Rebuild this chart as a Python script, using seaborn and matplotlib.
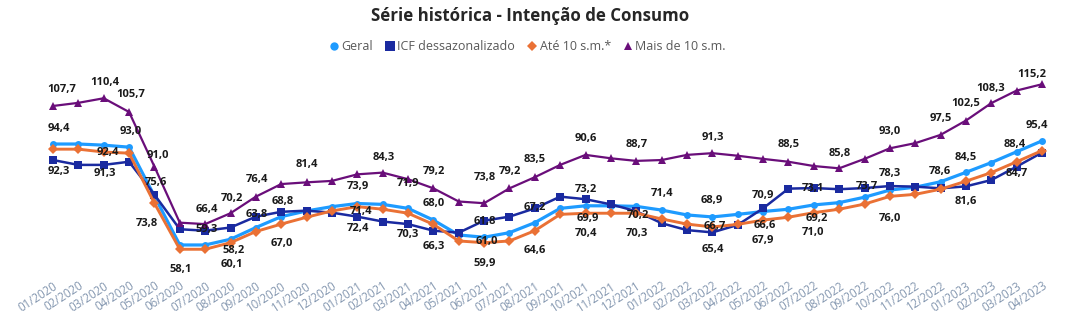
import matplotlib
matplotlib.use("Agg")
import matplotlib.pyplot as plt
import seaborn as sns
import pandas as pd
from matplotlib.lines import Line2D

# ---------------- data ----------------
months = [f"{m:02d}/{y}" for y in (2020, 2021, 2022) for m in range(1, 13)] + \
         ["01/2023", "02/2023", "03/2023", "04/2023"]

geral = [94.4, 94.4, 94.0, 93.3, 76.2, 59.1, 59.1, 61.1, 65.2, 69.0,
         71.0, 72.5, 73.6, 73.3, 71.9, 67.8, 62.6, 61.8, 63.4, 66.9,
         71.9, 72.8, 72.8, 72.6, 71.3, 69.6, 68.9, 69.8, 70.8, 71.6,
         73.1, 73.9, 75.8, 78.3, 79.3, 81.2, 84.5, 87.9, 91.7, 95.5]

icf_dessaz = [88.8, 87.1, 87.1, 88.2, 76.7, 64.6, 64.1, 65.2, 69.0, 70.7,
              71.1, 70.4, 69.0, 67.3, 66.4, 64.1, 63.4, 67.6, 69.0, 71.9,
              76.0, 75.1, 73.3, 70.9, 66.7, 64.3, 63.5, 66.1, 71.9, 78.8,
              79.0, 78.6, 79.0, 79.7, 79.5, 78.9, 79.6, 81.8, 86.5, 91.4]

ate_10sm = [92.6, 92.6, 91.6, 91.2, 73.7, 57.6, 57.6, 59.9, 63.8, 66.4,
            68.8, 71.0, 72.5, 71.6, 70.2, 66.3, 60.5, 59.9, 60.5, 64.1,
            69.8, 70.2, 70.2, 70.2, 68.2, 66.4, 65.4, 66.3, 67.8, 68.8,
            70.4, 71.6, 73.4, 76.1, 76.8, 78.6, 81.4, 84.4, 88.2, 92.1]

mais_10sm = [107.7, 108.8, 110.4, 105.6, 86.5, 66.9, 66.4, 70.2, 76.0, 80.4,
             81.0, 81.5, 83.8, 84.4, 82.1, 78.9, 74.3, 73.7, 78.9, 82.8,
             87.1, 90.6, 89.4, 88.5, 88.8, 90.6, 91.2, 90.3, 89.2, 88.2,
             86.7, 85.9, 89.2, 92.9, 94.7, 97.6, 102.6, 108.7, 113.1, 115.3]

series_names = ["Geral", "ICF dessazonalizado", "Até 10 s.m.*", "Mais de 10 s.m."]
series_values = [geral, icf_dessaz, ate_10sm, mais_10sm]

# data labels shown in the chart: (series, month index, text)
label_items = [
    ("Mais de 10 s.m.", 0, "107,7"), ("Mais de 10 s.m.", 2, "110,4"), ("Mais de 10 s.m.", 3, "105,7"),
    ("Geral", 0, "94,4"), ("Geral", 3, "93,0"), ("Até 10 s.m.*", 2, "92,4"),
    ("ICF dessazonalizado", 0, "92,3"), ("ICF dessazonalizado", 2, "91,3"),
    ("Mais de 10 s.m.", 4, "91,0"), ("ICF dessazonalizado", 4, "75,6"), ("Até 10 s.m.*", 4, "73,8"),
    ("Até 10 s.m.*", 5, "58,1"), ("Mais de 10 s.m.", 6, "66,4"), ("ICF dessazonalizado", 6, "59,3"),
    ("Mais de 10 s.m.", 7, "70,2"), ("Até 10 s.m.*", 7, "58,2"), ("Até 10 s.m.*", 7, "60,1"),
    ("Mais de 10 s.m.", 8, "76,4"), ("ICF dessazonalizado", 8, "63,8"), ("ICF dessazonalizado", 9, "68,8"),
    ("Até 10 s.m.*", 9, "67,0"), ("Mais de 10 s.m.", 10, "81,4"),
    ("Geral", 12, "73,9"), ("Até 10 s.m.*", 12, "71,4"), ("ICF dessazonalizado", 12, "72,4"),
    ("Mais de 10 s.m.", 13, "84,3"), ("Geral", 14, "71,9"), ("ICF dessazonalizado", 14, "70,3"),
    ("Mais de 10 s.m.", 15, "79,2"), ("Geral", 15, "68,0"), ("ICF dessazonalizado", 15, "66,3"),
    ("Mais de 10 s.m.", 17, "73,8"), ("ICF dessazonalizado", 17, "61,8"), ("Geral", 17, "61,0"),
    ("Até 10 s.m.*", 17, "59,9"), ("Mais de 10 s.m.", 18, "79,2"), ("Mais de 10 s.m.", 19, "83,5"),
    ("ICF dessazonalizado", 19, "67,2"), ("Até 10 s.m.*", 19, "64,6"), ("Mais de 10 s.m.", 21, "90,6"),
    ("ICF dessazonalizado", 21, "73,2"), ("Até 10 s.m.*", 21, "69,9"), ("Até 10 s.m.*", 21, "70,4"),
    ("Mais de 10 s.m.", 23, "88,7"), ("Até 10 s.m.*", 23, "70,2"), ("Até 10 s.m.*", 23, "70,3"),
    ("Geral", 24, "71,4"), ("Geral", 26, "68,9"), ("Até 10 s.m.*", 26, "66,7"),
    ("ICF dessazonalizado", 26, "65,4"), ("Mais de 10 s.m.", 26, "91,3"), ("ICF dessazonalizado", 28, "70,9"),
    ("Até 10 s.m.*", 28, "66,6"), ("Até 10 s.m.*", 28, "67,9"), ("Mais de 10 s.m.", 29, "88,5"),
    ("Geral", 30, "73,1"), ("Até 10 s.m.*", 30, "69,2"), ("Até 10 s.m.*", 30, "71,0"),
    ("Mais de 10 s.m.", 31, "85,8"), ("ICF dessazonalizado", 32, "73,7"), ("Mais de 10 s.m.", 33, "93,0"),
    ("Geral", 33, "78,3"), ("Até 10 s.m.*", 33, "76,0"), ("Mais de 10 s.m.", 35, "97,5"),
    ("Geral", 35, "78,6"), ("Mais de 10 s.m.", 36, "102,5"), ("Geral", 36, "84,5"),
    ("ICF dessazonalizado", 36, "81,6"), ("Mais de 10 s.m.", 37, "108,3"), ("Geral", 38, "88,4"),
    ("ICF dessazonalizado", 38, "84,7"), ("Mais de 10 s.m.", 39, "115,2"), ("Geral", 39, "95,4"),
]

# label placement offsets in pixels (dx right, dy down), same order as label_items
label_offsets = [
    (8.7, -16.7), (0.6, -16.0), (1.6, -17.7),
    (6.3, -15.7), (1.2, -15.7), (4.0, 0.2),
    (6.0, 11.6), (1.0, 9.0),
    (3.9, -10.7), (1.3, -12.4), (-7.4, 20.0),
    (1.2, 20.3), (1.5, -14.8), (1.5, -0.7),
    (1.5, -15.0), (2.8, 8.0), (1.2, 21.5),
    (1.1, -16.7), (1.1, -1.7), (1.1, -10.1),
    (0.8, 19.8), (0.7, -17.4),
    (1.0, -16.8), (3.7, 5.0), (1.0, 11.6),
    (0.6, -15.4), (0.3, -25.1), (0.3, 10.9),
    (0.6, -16.7), (0.6, -16.8), (0.6, 16.0),
    (0.9, -26.0), (0.9, 0.8), (2.6, 4.4),
    (0.9, 21.3), (0.5, -16.7), (0.2, -18.1),
    (0.2, -1.1), (0.2, 19.8), (0.4, -16.6),
    (0.4, -10.0), (2.7, 5.0), (0.4, 20.0),
    (0.4, -16.6), (2.0, 2.7), (0.4, 20.7),
    (0.1, -16.8), (-0.7, -16.0), (2.6, -0.4),
    (0.0, 16.9), (0.0, -15.9), (0.2, -12.7),
    (1.9, 5.9), (0.2, 20.6), (-0.2, -16.8),
    (-0.5, -16.7), (2.9, 5.6), (-0.5, 20.0),
    (0.1, -15.1), (2.2, -1.4), (0.0, -16.6),
    (0.0, -16.8), (0.0, 21.9), (0.0, -15.9),
    (-0.6, -10.1), (-0.3, -16.6), (-0.3, -15.1),
    (-0.3, 15.3), (-0.6, -14.2), (-1.7, -6.8),
    (0.0, 7.3), (-10.3, -9.3), (-5.3, -14.9),
]

# ---------------- style ----------------
colors = {"Geral": "#1E9BFF", "ICF dessazonalizado": "#1A2AA0",
          "Até 10 s.m.*": "#EA7135", "Mais de 10 s.m.": "#6A0E7A"}
markers = {"Geral": "o", "ICF dessazonalizado": "s",
           "Até 10 s.m.*": "D", "Mais de 10 s.m.": "^"}
msizes = {"Geral": 5.0, "ICF dessazonalizado": 6.0, "Até 10 s.m.*": 4.6, "Mais de 10 s.m.": 5.2}
lwidths = {"Geral": 2.3, "ICF dessazonalizado": 1.8, "Até 10 s.m.*": 2.1, "Mais de 10 s.m.": 1.6}

sns.set_theme(style="white")
plt.rcParams['font.family'] = ['Open Sans', 'DejaVu Sans']

W, H = 1070, 326
fig = plt.figure(figsize=(W / 100, H / 100), dpi=100)
ax = fig.add_axes([40.3 / W, 1 - 271.0 / H, 1014.4 / W, (271.0 - 56.5) / H])

x_idx = list(range(len(months)))
df = pd.DataFrame({"idx": x_idx})
for name, vals in zip(series_names, series_values):
    df[name] = vals

for z, name in enumerate(series_names):
    sns.lineplot(data=df, x="idx", y=name, ax=ax, color=colors[name],
                 marker=markers[name], markersize=msizes[name],
                 markeredgewidth=0, linewidth=lwidths[name],
                 legend=False, zorder=2 + z, sort=False)

ax.set_xlim(-0.5, len(months) - 0.5)
ax.set_ylim(50, 125)
ax.set_xlabel("")
ax.set_ylabel("")
ax.set_yticks([])
ax.set_xticks(x_idx)
ax.set_xticklabels(months, rotation=33, ha="right", rotation_mode="anchor",
                   fontsize=8.3, color="#8497B0")
ax.tick_params(axis="x", length=0, pad=6)
for s in ax.spines.values():
    s.set_visible(False)
ax.grid(False)

# data labels
val_map = dict(zip(series_names, series_values))
for (name, i, txt), (dx, dy) in zip(label_items, label_offsets):
    ax.annotate(txt, xy=(i, val_map[name][i]), xytext=(dx, -dy),
                textcoords="offset pixels", ha="center", va="center",
                fontsize=8, fontweight="bold", color="#1A1A1A", zorder=10)

# title
fig.text(530 / W, 1 - 16 / H, "Série histórica - Intenção de Consumo",
         ha="center", va="center", fontsize=12.2, fontweight="bold", color="#262626")

# legend
handles = [Line2D([], [], linestyle="none", marker=markers[n], color=colors[n],
                  markersize=msizes[n] + 1, markeredgewidth=0) for n in series_names]
fig.legend(handles, series_names, loc="center", bbox_to_anchor=(527 / W, 1 - 46.7 / H),
           ncol=4, frameon=False, fontsize=9, handletextpad=0.15, columnspacing=0.9,
           handlelength=0.9, labelcolor="#595959", borderaxespad=0)

fig.savefig("out.png", dpi=100)
